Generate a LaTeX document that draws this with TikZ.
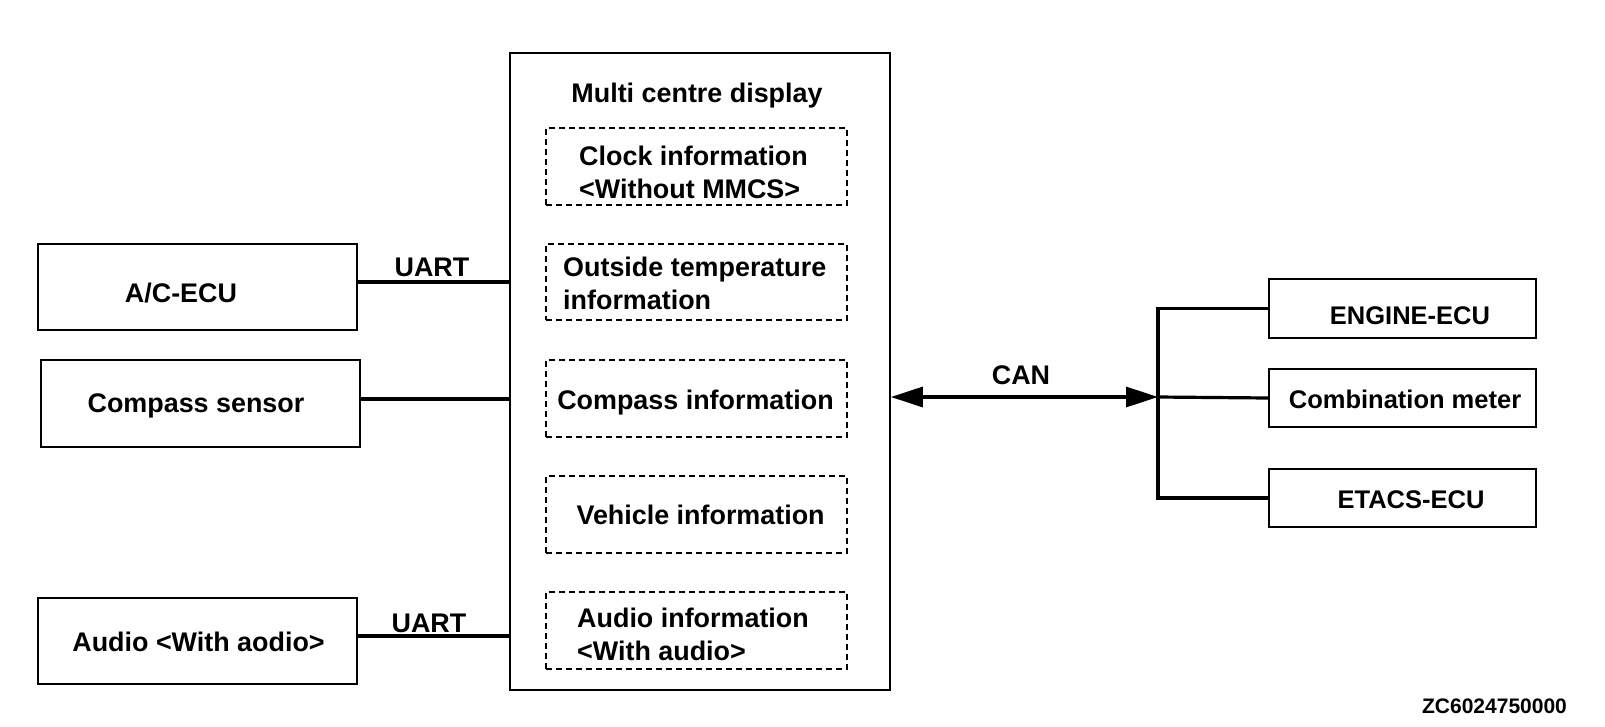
\documentclass[tikz,border=0pt]{standalone}
\usepackage{fontspec}
\setmainfont{Liberation Sans}
\usetikzlibrary{arrows.meta}
\begin{document}
\begin{tikzpicture}[x=1pt,y=-1pt,
  box/.style={draw, line width=1.8pt, inner sep=0pt},
  dbox/.style={draw, dash pattern=on 6pt off 4pt, line width=1.3pt, inner sep=0pt},
  lbl/.style={font=\bfseries\fontsize{26.9}{33}\selectfont, inner sep=0pt},
  rlbl/.style={font=\bfseries\fontsize{25.5}{30}\selectfont, inner sep=0pt},
  conn/.style={line width=3.2pt},
  >={Triangle[length=32pt,width=20pt]}
]
\useasboundingbox (0,0) rectangle (1605,726);
% left boxes
\node[box, minimum width=319pt, minimum height=86pt] (ac) at (197.5,287) {};
\node[box, minimum width=319pt, minimum height=87pt] (cs) at (200.5,403.5) {};
\node[box, minimum width=319pt, minimum height=86pt] (au) at (197.5,641) {};
% main box
\node[box, minimum width=380pt, minimum height=637pt] (main) at (700,371.5) {};
% dashed inner boxes
\node[dbox, minimum width=301pt, minimum height=77pt] (clk) at (696.5,166.5) {};
\node[dbox, minimum width=301pt, minimum height=76pt] (out) at (696.5,282) {};
\node[dbox, minimum width=301pt, minimum height=77pt] (cinf) at (696.5,398.5) {};
\node[dbox, minimum width=301pt, minimum height=77pt] (veh) at (696.5,514.5) {};
\node[dbox, minimum width=301pt, minimum height=77pt] (ainf) at (696.5,630.5) {};
% right boxes
\node[box, minimum width=267pt, minimum height=59pt] (eng) at (1402.5,308.5) {};
\node[box, minimum width=267pt, minimum height=58pt] (comb) at (1402.5,398) {};
\node[box, minimum width=267pt, minimum height=58pt] (etacs) at (1402.5,498) {};
% texts
\node[lbl] (tac) at (181,293) {A/C-ECU};
\node[lbl] (tcs) at (196,406) {Compass sensor};
\node[lbl] (tau) at (198.5,642) {Audio <With aodio>};
\node[lbl] (tmain) at (697,96) {Multi centre display};
\node[lbl, align=left, anchor=west] (tclk) at (579,172) {Clock information\\<Without MMCS>};
\node[lbl, align=left, anchor=west] (tout) at (563,283) {Outside temperature\\information};
\node[lbl] (tcinf) at (695.5,403) {Compass information};
\node[lbl] (tveh) at (700.6,515) {Vehicle information};
\node[lbl, align=left, anchor=west] (tainf) at (577,634) {Audio information\\<With audio>};
\node[rlbl] (teng) at (1410,316) {ENGINE-ECU};
\node[rlbl] (tcomb) at (1405,399) {Combination meter};
\node[rlbl] (tetacs) at (1411,500) {ETACS-ECU};
\node[lbl] (uart1) at (432,267) {UART};
\node[lbl] (uart2) at (429,623) {UART};
\node[lbl] (can) at (1021,375) {CAN};
\node[font=\bfseries\fontsize{21}{25}\selectfont, inner sep=0pt] (zc) at (1494.5,706) {ZC6024750000};
% connectors
\draw[conn] (ac.east |- 0,282) -- (main.west |- 0,282);
\draw[conn] (cs.east |- 0,399) -- (main.west |- 0,399);
\draw[conn] (au.east |- 0,636) -- (main.west |- 0,636);
\coordinate (bus) at (1158,397);
\coordinate (bt) at (1158,308.5);
\coordinate (bb) at (1158,498);
\draw[conn, <->] (main.east |- bus) -- (bus);
\draw[conn] (eng.west) -- (bt) -- (bb) -- (etacs.west);
\draw[conn] (bus) -- (comb.west);
\end{tikzpicture}
\end{document}
